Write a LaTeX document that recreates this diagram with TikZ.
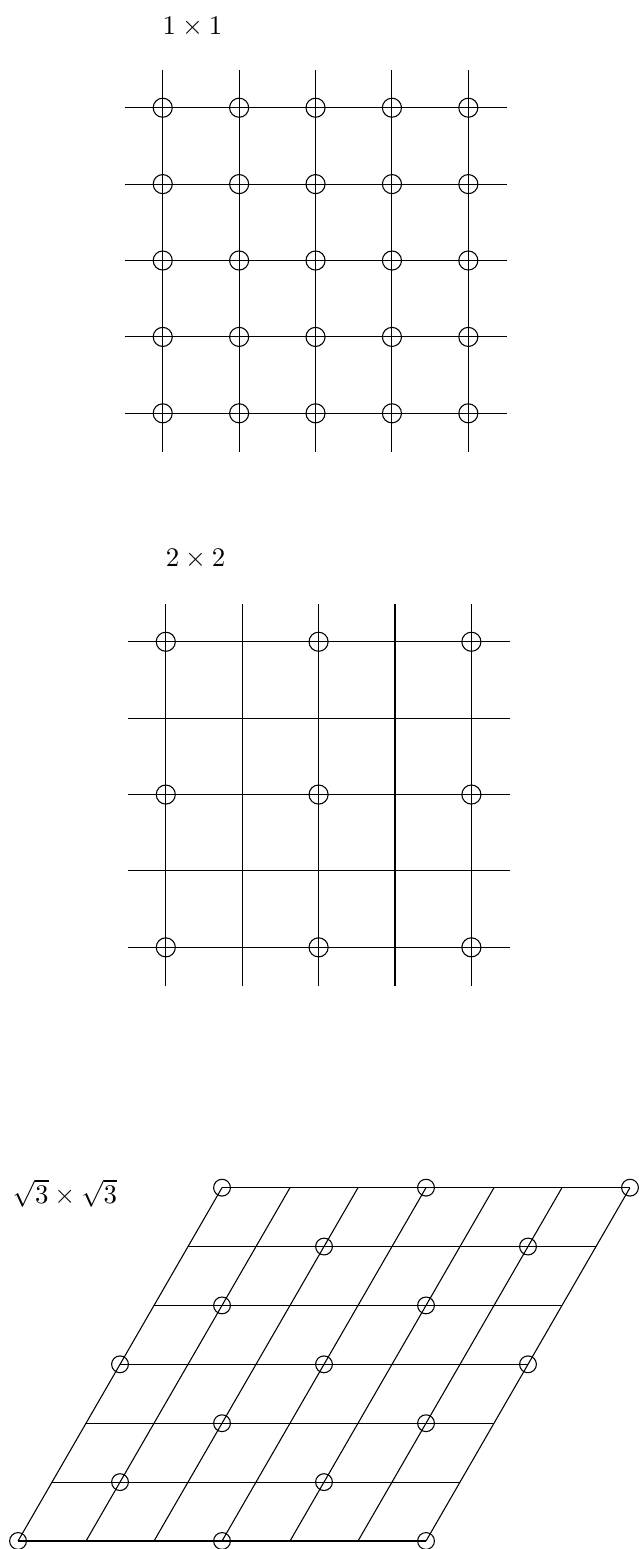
\documentclass[tikz,border=0pt]{standalone}
\begin{document}
\begin{tikzpicture}[adatom/.style={draw,circle,inner sep=0pt,minimum size=2.5mm}]
\useasboundingbox (0,0) rectangle (8.403,-20.275);
% 1x1 square lattice
\node (lab1) at (2.52,-0.35) {$1\times1$};
\begin{scope}[shift={(2.13,-5.41)}]
\foreach \i in {0,...,4} {
  \draw (\i,-0.5) -- (\i,4.5);
  \draw (-0.5,\i) -- (4.5,\i);
}
\foreach \i in {0,...,4}
  \foreach \j in {0,...,4}
    \node[adatom] (a\i\j) at (\i,\j) {};
\end{scope}
% 2x2 reconstruction
\node (lab2) at (2.56,-7.32) {$2\times2$};
\begin{scope}[shift={(2.17,-12.40)}]
\foreach \i in {0,...,4} {
  \draw (\i,-0.5) -- (\i,4.5);
  \draw (-0.5,\i) -- (4.5,\i);
}
\foreach \i in {0,2,4}
  \foreach \j in {0,2,4}
    \node[adatom] (b\i\j) at (\i,\j) {};
\end{scope}
% sqrt3 x sqrt3 on the triangular lattice
\node (lab3) at (0.85,-15.62) {$\sqrt{3}\times\sqrt{3}$};
\begin{scope}[shift={(0.236,-20.17)},x={(0.89cm,0cm)},y={(0.445cm,0.7708cm)}]
\foreach \i in {0,...,6} {
  \draw (\i,0) -- (\i,6);
  \draw (0,\i) -- (6,\i);
}
\foreach \i in {0,...,6}
  \foreach \j in {0,...,6} {
    \pgfmathtruncatemacro\r{mod(\i+2*\j,3)}
    \ifnum\r=0 \node[adatom,minimum size=2.2mm] (c\i\j) at (\i,\j) {}; \fi
  }
\end{scope}
\end{tikzpicture}
\end{document}
